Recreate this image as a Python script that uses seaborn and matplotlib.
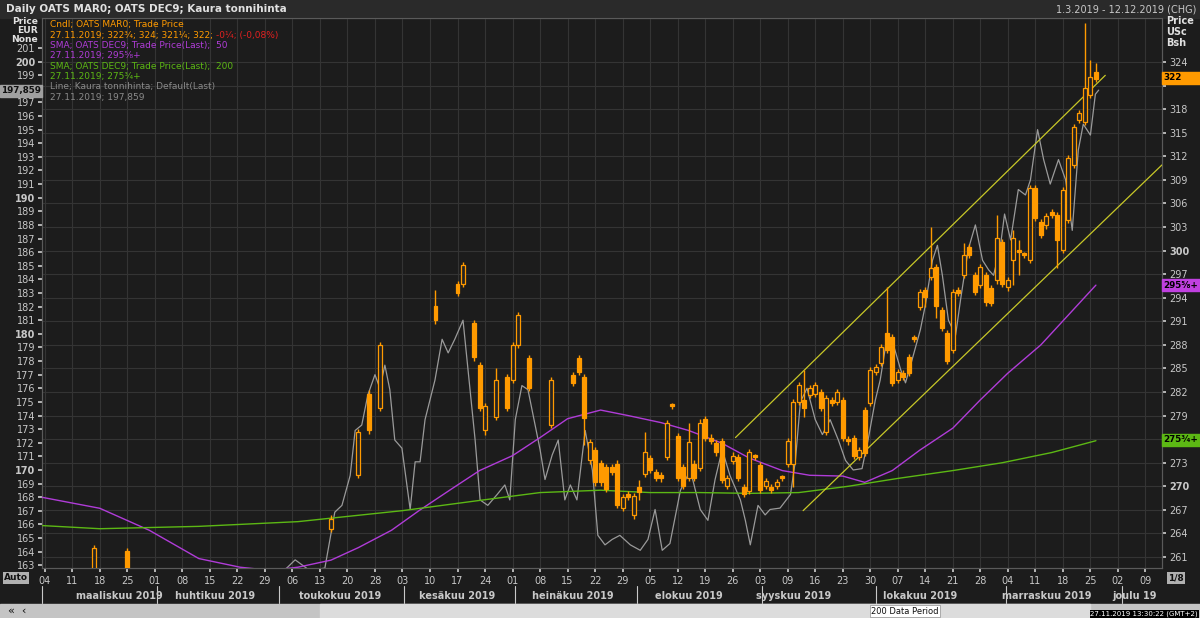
import matplotlib
matplotlib.use("Agg")
import matplotlib.pyplot as plt
import matplotlib.transforms as mtrans
from matplotlib.patches import Rectangle
import seaborn as sns
import pandas as pd

sns.set_theme(style="dark")
plt.rcParams['font.family'] = ['DejaVu Sans']

# ---------------- data ----------------
cd = [9, 15, 42, 52, 57, 59, 61, 71, 75, 76, 78, 79, 80, 82, 84, 85, 86, 88, 92, 96, 97, 98, 99, 100,
      101, 102, 103, 104, 105, 106, 107, 108, 109, 110, 111, 112, 113, 114, 115, 116, 117, 118, 119, 120,
      121, 122, 123, 124, 125, 126, 127, 128, 129, 130, 131, 132, 133, 134, 135, 136, 137, 138, 139, 140,
      141, 142, 143, 144, 145, 146, 147, 148, 149, 150, 151, 152, 153, 154, 155, 156, 157, 158, 159, 160,
      161, 162, 163, 164, 165, 166, 167, 168, 169, 170, 171, 172, 173, 174, 175, 176, 177, 178, 179, 180,
      181, 182, 183, 184, 185, 186, 187, 188, 189, 190, 191]
co = [259.5, 261.8, 259.0, 264.6, 271.4, 281.8, 280.0, 292.9, 295.7, 295.8, 290.8, 285.4, 277.1, 278.8, 283.9, 283.5, 288.0, 286.3, 277.8, 284.1, 286.3, 283.9, 273.3, 274.6,
      273.0, 272.4, 272.4, 272.9, 267.3, 269.0, 266.3, 269.9, 271.6, 273.6, 271.8, 271.4, 273.7, 280.2, 276.4, 272.4, 271.1, 272.9, 272.3, 278.6,
      276.2, 275.5, 275.7, 270.1, 273.2, 273.7, 269.9, 269.4, 273.7, 272.7, 270.1, 269.9, 270.1, 271.1, 272.9, 272.9, 280.7, 281.0, 281.6, 281.8,
      282.0, 276.9, 281.0, 280.7, 281.0, 276.0, 276.1, 273.7, 279.7, 280.6, 284.5, 285.7, 289.5, 289.0, 283.5, 284.4, 286.4, 288.8, 292.8, 295.0,
      296.6, 297.9, 292.4, 289.5, 287.3, 295.0, 296.9, 300.4, 296.9, 295.6, 296.9, 295.2, 296.2, 301.1, 295.3, 298.8, 299.8, 299.4, 298.8, 308.0,
      303.6, 303.2, 304.9, 304.5, 300.1, 303.9, 310.9, 316.6, 316.4, 319.8, 322.7]
cc = [262.1, 259.5, 258.3, 265.9, 276.9, 277.1, 288.0, 291.1, 294.6, 298.1, 286.4, 280.0, 280.2, 283.5, 280.0, 288.0, 291.8, 282.5, 283.5, 283.2, 284.5, 278.7, 275.6, 270.5,
      270.5, 269.7, 271.8, 267.6, 268.6, 268.6, 268.8, 269.3, 274.4, 272.1, 271.1, 271.0, 278.0, 280.2, 271.1, 270.1, 275.6, 271.1, 278.1, 276.2,
      275.8, 274.3, 270.8, 271.0, 273.9, 271.1, 269.0, 274.3, 273.7, 269.5, 270.7, 269.5, 270.5, 271.1, 275.8, 280.7, 282.9, 280.0, 282.5, 282.9,
      280.0, 281.2, 280.6, 282.0, 276.1, 275.7, 273.9, 274.6, 274.2, 284.8, 285.2, 287.7, 287.3, 283.1, 284.5, 283.9, 284.4, 288.8, 294.7, 294.1,
      297.8, 293.0, 290.2, 286.0, 294.7, 294.6, 299.4, 299.4, 294.7, 297.9, 293.4, 293.3, 301.6, 295.8, 296.2, 301.6, 299.8, 299.4, 308.0, 304.1,
      302.0, 304.4, 304.5, 301.3, 307.7, 311.8, 315.7, 317.5, 320.7, 322.1, 321.8]
wick_high = {71: 295.0, 76: 298.5, 82: 285.1, 108: 270.8, 109: 276.9, 117: 278.0, 138: 284.8, 153: 295.3,
             161: 303.0, 167: 301.0, 173: 304.5, 176: 302.6, 177: 301.3, 189: 329.0, 190: 324.3, 191: 323.9}
wick_low = {80: 276.5, 98: 275.2, 108: 268.2, 136: 269.9, 138: 278.8, 160: 292.8, 162: 291.4,
            176: 295.6, 177: 296.9, 184: 297.8}

sma50_d = [-0.5, 10, 19, 28, 35.5, 41, 46, 52, 57, 63, 68, 74, 79, 85, 90, 95, 101, 106, 112, 117, 123, 128,
           134, 139, 145, 149, 154, 159, 165, 170, 175, 181, 186, 191]
sma50_v = [268.6, 267.2, 264.4, 260.8, 259.7, 259.3, 259.7, 260.6, 262.2, 264.4, 266.9, 269.7, 272.0, 273.9,
           276.2, 278.6, 279.7, 279.0, 278.1, 277.1, 275.5, 273.6, 272.0, 271.4, 271.3, 270.5, 272.0, 274.6,
           277.4, 281.0, 284.4, 288.0, 291.8, 295.6]
sma200_d = [-0.5, 10, 28, 46, 65, 79, 90, 101, 110, 119, 128, 137, 146, 155, 165, 174, 183, 191]
sma200_v = [265.0, 264.6, 264.9, 265.5, 266.9, 268.2, 269.2, 269.5, 269.2, 269.2, 269.1, 269.2, 270.0,
            271.0, 272.0, 273.0, 274.3, 275.8]

kaura_pts = [
    (42.7, 162.3), (45.5, 163.4), (48.2, 162.6), (50.9, 162.8), (52.7, 166.9), (54, 167.4), (55.5, 169.6),
    (56.4, 172.9), (57.6, 173.3), (58.7, 175.5), (60, 177.0), (60.9, 176.0), (61.8, 177.7), (62.7, 175.9),
    (63.6, 172.2), (64.9, 171.6), (66.4, 167.1), (67.3, 170.6), (68.2, 170.6), (69.1, 173.7), (70.9, 176.6),
    (72.2, 179.6), (73.3, 178.6), (74.5, 179.6), (76, 181.0), (76.9, 177.4), (78.2, 172.2), (79.1, 167.8),
    (80.5, 167.4), (82.2, 168.2), (83.6, 168.9), (84.5, 167.8), (85.5, 173.7), (86.7, 176.2), (87.8, 175.9),
    (90, 171.5), (90.9, 169.3), (92.2, 171.1), (93.3, 172.2), (94.5, 167.8), (95.5, 168.9), (96.7, 167.8),
    (98.2, 172.9), (99.5, 170.0), (100.5, 165.2), (101.8, 164.5), (103.1, 164.9), (104.5, 165.2),
    (106.4, 164.5), (108.2, 164.1), (109.6, 164.9), (110.9, 167.1), (112.2, 164.1), (113.6, 164.6),
    (115.5, 168.5), (117.3, 170.0), (119.1, 167.1), (120.5, 166.3), (121.8, 169.3), (123.1, 171.5),
    (124.5, 169.6), (126.4, 167.8), (127.3, 166.3), (128.2, 164.5), (129.6, 167.4), (130.9, 166.7),
    (131.8, 167.1), (133.6, 167.2), (135.5, 168.2), (136.4, 170.7), (137.3, 175.0), (138.5, 176.0),
    (140, 173.7), (141.3, 172.6), (142.7, 173.7), (144.2, 172.2), (145.5, 170.7), (146.9, 170.0),
    (148.5, 170.1), (149.6, 172.2), (150.9, 175.1), (151.8, 176.6), (153.1, 179.9), (154.2, 179.2),
    (155.5, 177.4), (156.4, 176.4), (157.6, 178.1), (159.1, 180.3), (160, 182.1), (161.3, 185.4),
    (162.2, 186.5), (163.1, 184.3), (164.2, 181.0), (165.5, 179.9), (166.4, 182.5), (167.8, 186.2),
    (169.1, 188.0), (170.4, 185.4), (171.5, 184.7), (172.4, 184.3), (173.6, 186.3), (174.4, 188.8),
    (175.5, 186.9), (176.9, 190.6), (178.2, 190.2), (179.1, 191.3), (180.4, 195.0), (181.5, 192.8),
    (182.7, 191.0), (184.2, 192.8), (185.5, 191.3), (186.7, 187.6), (187.8, 193.5), (188.7, 195.4),
    (190, 194.6), (190.9, 197.6), (191.5, 197.9)]
kaura_d = [p[0] for p in kaura_pts]
kaura_v = [p[1] for p in kaura_pts]

chan_up_d, chan_up_v = [125.5, 192.7], [276.2, 322.3]
chan_lo_d, chan_lo_v = [137.8, 203.0], [266.9, 310.9]

day_labels = ["04", "11", "18", "25", "01", "08", "15", "22", "29", "06", "13", "20", "28", "03", "10", "17",
              "24", "01", "08", "15", "22", "29", "05", "12", "19", "26", "03", "09", "16", "23", "30", "07",
              "14", "21", "28", "04", "11", "18", "25", "02", "09"]
months = ["maaliskuu 2019", "huhtikuu 2019", "toukokuu 2019", "kesäkuu 2019", "heinäkuu 2019",
          "elokuu 2019", "syyskuu 2019", "lokakuu 2019", "marraskuu 2019", "joulu 19"]
month_centers = [13.6, 31, 53.6, 75, 96, 117, 136, 159, 182, 198]
month_starts = [20.4, 42.5, 65.3, 85.5, 107.6, 130.4, 151.1, 174.7, 195.8]

# ---------------- style ----------------
BG = '#232323'
FIG = '#1c1c1c'
GRID = '#343434'
TXT = '#c8c8c8'
ORANGE = '#ff9a00'
PURPLE = '#b03cd8'
GREEN = '#5cb814'
GRAY = '#9a9a9a'
YEL = '#c8c828'

fig = plt.figure(figsize=(12, 6.18), dpi=100, facecolor=FIG)
ax = fig.add_axes([0.035, 0.0809, 0.9333, 0.8900])
axl = ax.twinx()
ax.set_zorder(axl.get_zorder() + 1)
ax.patch.set_visible(False)
axl.set_facecolor(BG)

XMIN, XMAX = -0.5, 203.0
YR = (259.6, 329.6)
YL = (162.8, 203.2)

# ---------------- lines ----------------
sns.lineplot(x=kaura_d, y=kaura_v, ax=axl, color=GRAY, lw=0.9, estimator=None, sort=False, zorder=2)
sns.lineplot(x=sma50_d, y=sma50_v, ax=ax, color=PURPLE, lw=1.0, estimator=None, zorder=3)
sns.lineplot(x=sma200_d, y=sma200_v, ax=ax, color=GREEN, lw=1.0, estimator=None, zorder=3)
sns.lineplot(x=chan_up_d, y=chan_up_v, ax=ax, color=YEL, lw=0.9, estimator=None, zorder=3)
sns.lineplot(x=chan_lo_d, y=chan_lo_v, ax=ax, color=YEL, lw=0.9, estimator=None, zorder=3)

# ---------------- candles ----------------
df = pd.DataFrame({'d': cd, 'o': co, 'c': cc})
df['hi'] = [wick_high.get(d, max(o, c) + 0.4) for d, o, c in zip(cd, co, cc)]
df['lo'] = [wick_low.get(d, min(o, c) - 0.4) for d, o, c in zip(cd, co, cc)]
ax.vlines(df['d'], df['lo'], df['hi'], color=ORANGE, lw=1.0, zorder=4)
for _, r in df.iterrows():
    bottom = min(r.o, r.c)
    h = max(abs(r.c - r.o), 0.25)
    filled = r.c < r.o or abs(r.c - r.o) < 0.3
    ax.bar(r.d, h, bottom=bottom, width=0.72,
           color=ORANGE if filled else BG, edgecolor=ORANGE, linewidth=0.9, zorder=5)

ax.set_xlim(XMIN, XMAX)
ax.set_ylim(*YR)
axl.set_ylim(*YL)
for a in (ax, axl):
    a.set_xlabel('')
    a.set_ylabel('')

# right axis ticks (USc); labels hidden under the value tags
rt = list(range(261, 325, 3))
hidden_r = (276, 321)
ax.yaxis.tick_right()
ax.set_yticks(rt)
ax.set_yticklabels(['' if v in hidden_r else str(v) for v in rt])
for lab, v in zip(ax.get_yticklabels(), rt):
    if v in (270, 300):
        lab.set_fontweight('bold')
ax.tick_params(axis='y', colors=TXT, labelsize=7, length=3, pad=2, direction='out', right=True, left=False)
# left axis (EUR)
lt = list(range(163, 202))
hidden_l = (198,)
axl.yaxis.set_ticks_position('left')
axl.yaxis.set_label_position('left')
axl.set_yticks(lt)
axl.set_yticklabels(['' if v in hidden_l else str(v) for v in lt])
for lab, v in zip(axl.get_yticklabels(), lt):
    if v in (170, 180, 190, 200):
        lab.set_fontweight('bold')
axl.tick_params(axis='y', colors=TXT, labelsize=7, length=3, pad=2, left=True, right=False)

xt = [5 * i for i in range(len(day_labels))]
ax.set_xticks(xt)
ax.set_xticklabels(day_labels)
ax.tick_params(axis='x', colors=TXT, labelsize=7, length=3, pad=3, bottom=True)
axl.set_xticks(xt)

for a in (ax, axl):
    for s in a.spines.values():
        s.set_color('#5a5a5a')
        s.set_linewidth(0.8)
    a.grid(False)
for v in rt:
    axl.axhline(YL[0] + (v - YR[0]) / (YR[1] - YR[0]) * (YL[1] - YL[0]), color=GRID, lw=0.8, zorder=0)
for v in xt:
    axl.axvline(v, color=GRID, lw=0.8, zorder=0)

# ---------------- month labels ----------------
btr = mtrans.blended_transform_factory(ax.transData, fig.transFigure)
for m, c in zip(months, month_centers):
    fig.text(c, 1 - 596 / 618, m, transform=btr, color=TXT, fontsize=7, fontweight='bold',
             ha='center', va='center')
for s in month_starts + [XMIN]:
    fig.add_artist(plt.Line2D([s, s], [1 - 603 / 618, 1 - 586 / 618], transform=btr, color=TXT, lw=0.8))

# ---------------- header / frame ----------------
fig.patches.append(Rectangle((0, 1 - 18 / 618), 1, 18 / 618, transform=fig.transFigure,
                             color='#2a2a2a', zorder=0))
fig.text(6 / 1200, 1 - 9 / 618, 'Daily OATS MAR0; OATS DEC9; Kaura tonnihinta', color='#e0e0e0',
         fontsize=7.5, fontweight='bold', va='center')
fig.text(1196 / 1200, 1 - 9 / 618, '1.3.2019 - 12.12.2019 (CHG)', color=TXT, fontsize=7, ha='right', va='center')
for i, t in enumerate(['Price', 'EUR', 'None']):
    fig.text(38 / 1200, 1 - (21 + 9.5 * i) / 618, t, color='#e0e0e0', fontsize=6.6, fontweight='bold',
             ha='right', va='center')
for i, t in enumerate(['Price', 'USc', 'Bsh']):
    fig.text(1166 / 1200, 1 - (21 + 11 * i) / 618, t, color='#e0e0e0', fontsize=7, fontweight='bold',
             ha='left', va='center')

# legend text
lx = 50 / 1200
rows = [('Cndl; OATS MAR0; Trade Price', ORANGE),
        ('27.11.2019; 322³⁄₄; 324; 321¹⁄₄; 322; ', ORANGE),
        ('SMA; OATS DEC9; Trade Price(Last);  50', PURPLE),
        ('27.11.2019; 295⁵⁄₈+', PURPLE),
        ('SMA; OATS DEC9; Trade Price(Last);  200', GREEN),
        ('27.11.2019; 275³⁄₄+', GREEN),
        ('Line; Kaura tonnihinta; Default(Last)', '#8a8a8a'),
        ('27.11.2019; 197,859', '#8a8a8a')]
for i, (t, col) in enumerate(rows):
    tx = fig.text(lx, 1 - (25 + 10.3 * i) / 618, t, color=col, fontsize=6.5, va='center')
    if i == 1:
        ax.annotate('-0¹⁄₄; (-0,08%)', xy=(1, 0.5), xycoords=tx, xytext=(0, 0), textcoords='offset points',
                    color='#e02020', fontsize=6.5, va='center', annotation_clip=False)

# value tags
def tag(ypix, text, fc, tc='black', left=False):
    x0 = 0 if left else 1162 / 1200
    w = 42 / 1200 if left else 38 / 1200
    fig.patches.append(Rectangle((x0, 1 - (ypix + 6) / 618), w, 12 / 618, transform=fig.transFigure,
                                 color=fc, zorder=3))
    fig.text(x0 + 1 / 1200, 1 - ypix / 618, text, color=tc, fontsize=6.3, fontweight='bold',
             va='center', ha='left', zorder=4)

tag(78, '322', ORANGE)
tag(285, '295⁵⁄₈+', '#c040e0')
tag(440, '275³⁄₄+', GREEN)
tag(91, '197,859', '#a0a0a0', tc='#101010', left=True)

fig.text(4 / 1200, 1 - 578 / 618, 'Auto', color='#101010', fontsize=6.5, fontweight='bold', va='center',
         bbox=dict(facecolor='#b0b0b0', edgecolor='none', pad=0.8))
fig.text(1168 / 1200, 1 - 578 / 618, '1/8', color='#101010', fontsize=6.5, fontweight='bold', va='center',
         bbox=dict(facecolor='#b0b0b0', edgecolor='none', pad=0.8))

# scroll bar
fig.patches.append(Rectangle((0, 0), 1, 14 / 618, transform=fig.transFigure, color='#c4c4c4', zorder=1))
fig.patches.append(Rectangle((320 / 1200, 0), 770 / 1200, 14 / 618, transform=fig.transFigure,
                             color='#dcdcdc', zorder=1))
fig.text(905 / 1200, 7 / 618, '200 Data Period', color='#101010', fontsize=6, ha='center', va='center',
         bbox=dict(facecolor='white', edgecolor='#909090', pad=1.0, lw=0.5), zorder=5)
fig.text(8 / 1200, 7 / 618, '«  ‹', color='#101010', fontsize=8, va='center', zorder=5)
fig.text(1198 / 1200, 4 / 618, '27.11.2019 13:30:22 (GMT+2)', color='white', fontsize=5, va='center',
         ha='right', bbox=dict(facecolor='black', edgecolor='none', pad=0.6), zorder=6)

fig.savefig('out.png', dpi=100, facecolor=FIG)
